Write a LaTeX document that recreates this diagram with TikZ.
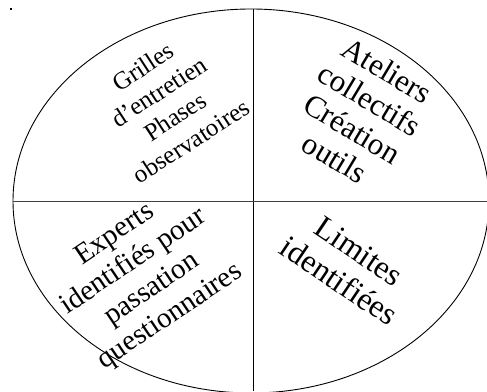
\documentclass[tikz,border=0pt]{standalone}
\usepackage{fontspec}
\setmainfont{Liberation Serif}
\begin{document}
\begin{tikzpicture}[x=1pt,y=1pt,
  rule/.style={draw=black,line width=0.9pt},
  label/.style={align=center,inner sep=0pt}]
\useasboundingbox (0,0) rectangle (487,391);
\fill[white] (0,0) rectangle (487,391);
\begin{scope}
  \clip (0,0) rectangle (487,391);
  \draw[rule] (251,190) ellipse [x radius=238, y radius=192];
\end{scope}
\coordinate (top) at (253,382);
\coordinate (bot) at (253,0);
\coordinate (lft) at (13,190);
\coordinate (rgt) at (487,190);
\draw[rule] (top) -- (bot);
\draw[rule,draw=black!75] (lft) -- (rgt);
\fill[black] (10,381) rectangle (12,383);
\node[label,rotate=33,font=\fontsize{25}{29.5}\selectfont] (tl) at (167,287)
  {Grilles\\d'entretien\\Phases\\observatoires};
\node[label,rotate=-31,font=\fontsize{31}{34}\selectfont] (tr) at (361,277)
  {Ateliers\\collectifs\\Création\\outils};
\node[label,rotate=34,font=\fontsize{29}{33}\selectfont] (bl) at (143,115)
  {Experts\\identifiés pour\\passation\\questionnaires};
\node[label,rotate=-34,font=\fontsize{32}{36}\selectfont] (br) at (349,125)
  {Limites\\identifiées};
\end{tikzpicture}
\end{document}
